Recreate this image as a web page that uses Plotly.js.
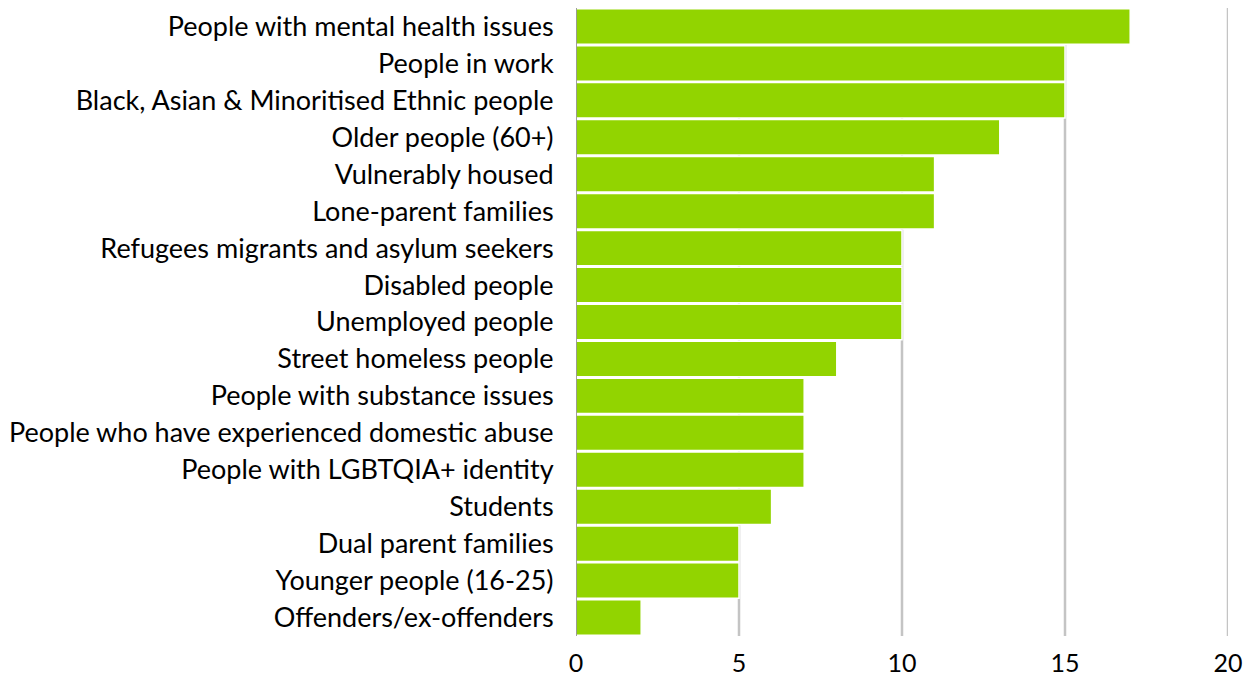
<!DOCTYPE html>
<html><head><meta charset="utf-8">
<script src="https://cdn.plot.ly/plotly-3.0.1.min.js"></script>
<style>body{margin:0;background:#fff}#chart{width:1254px;height:677px}</style>
</head><body><div id="chart"></div>
<script>
const categories = [
  "People with mental health issues",
  "People in work",
  "Black, Asian & Minoritised Ethnic people",
  "Older people (60+)",
  "Vulnerably housed",
  "Lone-parent families",
  "Refugees migrants and asylum seekers",
  "Disabled people",
  "Unemployed people",
  "Street homeless people",
  "People with substance issues",
  "People who have experienced domestic abuse",
  "People with LGBTQIA+ identity",
  "Students",
  "Dual parent families",
  "Younger people (16-25)",
  "Offenders/ex-offenders"
];
const values = [17, 15, 15, 13, 11, 11, 10, 10, 10, 8, 7, 7, 7, 6, 5, 5, 2];
const tickVals = [0, 5, 10, 15, 20];

const trace = {
  type: 'bar', orientation: 'h',
  x: values, y: categories,
  marker: {color: '#92D400', line: {color: '#ffffff', width: 1.5}},
  hoverinfo: 'x+y'
};
const gridShapes = tickVals.filter(v => v > 0).map(v => ({
  type: 'line', xref: 'x', yref: 'paper', x0: v, x1: v, y0: 0, y1: 1, layer: 'below',
  line: {color: '#c4c4c4', width: 2.5}
}));
const layout = {
  width: 1254, height: 677,
  margin: {l: 576, r: 26, t: 8, b: 41},
  paper_bgcolor: '#fff', plot_bgcolor: 'rgba(0,0,0,0)',
  font: {family: 'Lato, sans-serif', size: 27, color: '#000'},
  bargap: 0.04,
  showlegend: false,
  xaxis: {range: [0, 20], tickvals: tickVals, showgrid: false,
          zeroline: false, showline: false, ticks: 'outside', ticklen: 5, tickcolor: 'rgba(0,0,0,0)',
          tickfont: {size: 25}, fixedrange: true},
  yaxis: {autorange: 'reversed', type: 'category', showgrid: false, zeroline: false,
          showline: false, ticks: 'outside', ticklen: 16, tickcolor: 'rgba(0,0,0,0)', tickfont: {size: 27}},
  shapes: gridShapes.concat([{type: 'line', xref: 'x', yref: 'paper', x0: 0, x1: 0, y0: 0, y1: 1,
            line: {color: '#7f7f7f', width: 1.5}}])
};
Plotly.newPlot('chart', [trace], layout, {displayModeBar: false, staticPlot: true});
</script></body></html>
